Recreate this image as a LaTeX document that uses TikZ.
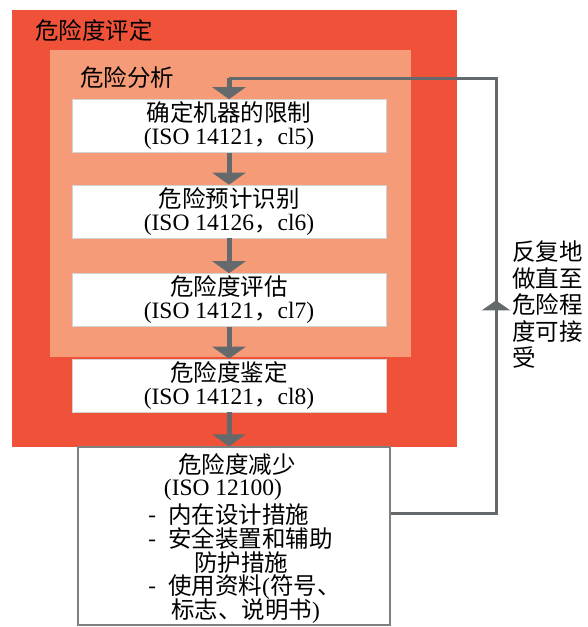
\documentclass[tikz,border=0pt]{standalone}
\usepackage{fontspec}
\setmainfont{Noto Sans CJK SC}
\newfontfamily\serif{Liberation Serif}
\usetikzlibrary{arrows.meta,decorations.markings}
\definecolor{redc}{RGB}{239,82,56}
\definecolor{salm}{RGB}{245,155,120}
\definecolor{arrg}{RGB}{100,106,108}
\begin{document}
\begin{tikzpicture}[x=1pt,y=-1pt,
  cjk/.style={font=\fontsize{23.5}{24}\selectfont, inner sep=0pt},
  whitebox/.style={fill=white, draw=gray!35, line width=0.6pt, minimum width=314pt, minimum height=53pt, inner sep=0pt, align=center, font=\fontsize{23.5}{23}\selectfont},
  flowarrow/.style={draw=arrg, line width=5pt, -{Triangle[width=33pt,length=12pt]}},
  fb/.style={draw=arrg, line width=3pt}]
\useasboundingbox (0,0) rectangle (587,627);
\fill[redc] (12,10) rectangle (457,447);
\fill[salm] (50,50) rectangle (411,357);
\node[cjk, anchor=west] (t1) at (35,31) {危险度评定};
\node[cjk, anchor=west] (t2) at (80,78) {危险分析};
\node[whitebox] (b1) at (229,126) {确定机器的限制\\{\serif (ISO 14121}，{\serif cl5)}};
\node[whitebox] (b2) at (229,211.5) {危险预计识别\\{\serif (ISO 14126}，{\serif cl6)}};
\node[whitebox] (b3) at (229,300) {危险度评估\\{\serif (ISO 14121}，{\serif cl7)}};
\node[whitebox] (b4) at (229,385.5) {危险度鉴定\\{\serif (ISO 14121}，{\serif cl8)}};
\node[fill=white, draw=gray, line width=1.2pt, minimum width=312pt, minimum height=178pt, inner sep=0pt] (b5) at (234,536) {};
\node[cjk] (r1) at (237,465) {危险度减少};
\node[cjk, font=\serif\fontsize{23.5}{24}\selectfont] (r2) at (223,490) {(ISO 12100)};
\node[cjk, anchor=west] (r3) at (148,514.5) {\makebox[20pt][l]{-}内在设计措施};
\node[cjk, anchor=west] (r4) at (148,538.5) {\makebox[20pt][l]{-}安全装置和辅助};
\node[cjk] (r5) at (241,563) {防护措施};
\node[cjk, anchor=west] (r6) at (148,587) {\makebox[20pt][l]{-}使用资料{\serif(}符号、};
\node[cjk, anchor=west] (r7) at (171,611) {标志、说明书{\serif)}};
\node[cjk, anchor=north west, align=left, font=\fontsize{23.5}{26.5}\selectfont] (fbt) at (512,241) {反复地\\做直至\\危险程\\度可接\\受};
\draw[flowarrow] (b1.south) -- (b2.north);
\draw[flowarrow] (b2.south) -- (b3.north);
\draw[flowarrow] (b3.south) -- (b4.north);
\draw[flowarrow] (b4.south) -- (b4.south |- b5.north);
\coordinate (fbb) at (496,513);
\coordinate (fbr) at (496,78);
\coordinate (fbl) at (b1.north |- fbr);
\draw[fb, line join=miter, postaction=decorate, decoration={markings, mark=at position 318pt with {\arrow{Triangle[width=28pt,length=10pt]}}}] (b5.east |- fbb) -- (fbb) -- (fbr) -- (fbl);
\draw[flowarrow] (fbl) -- (b1.north);
\end{tikzpicture}
\end{document}
